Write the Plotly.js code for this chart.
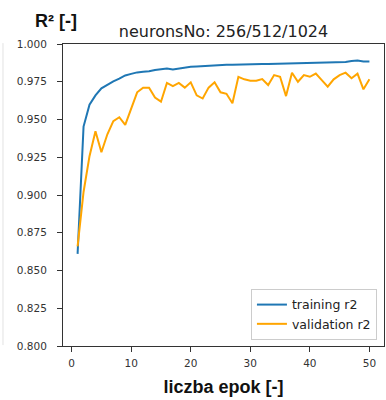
<!DOCTYPE html>
<html>
<head>
<meta charset="utf-8">
<script src="https://cdn.plot.ly/plotly-3.0.1.min.js"></script>
<style>html,body{margin:0;padding:0;background:#fff;}#chart{width:386px;height:400px;}</style>
</head>
<body>
<div id="chart"></div>
<script>
const epochs = [1,2,3,4,5,6,7,8,9,10,11,12,13,14,15,16,17,18,19,20,21,22,23,24,25,26,27,28,29,30,31,32,33,34,35,36,37,38,39,40,41,42,43,44,45,46,47,48,49,50];
const trainingR2 = [0.861,0.9453,0.9598,0.966,0.9706,0.9732,0.9752,0.977,0.9792,0.9802,0.9812,0.9816,0.9819,0.9828,0.9835,0.9838,0.9832,0.9838,0.9845,0.9849,0.9851,0.9854,0.9856,0.9858,0.9861,0.9862,0.9862,0.9864,0.9865,0.9866,0.9868,0.9868,0.9868,0.9869,0.9871,0.9873,0.9873,0.9873,0.9875,0.9875,0.9878,0.9878,0.9878,0.9878,0.9879,0.9881,0.9887,0.989,0.9884,0.9884];
const validationR2 = [0.866,0.902,0.9257,0.9422,0.9283,0.9402,0.9489,0.9515,0.9464,0.9567,0.968,0.9711,0.9711,0.9645,0.9618,0.9742,0.9721,0.9742,0.9711,0.9746,0.966,0.9639,0.9711,0.9746,0.968,0.967,0.9608,0.9783,0.9766,0.9757,0.9757,0.9768,0.9728,0.9794,0.9783,0.9655,0.981,0.975,0.9794,0.9783,0.9804,0.9761,0.9717,0.9766,0.9794,0.981,0.9773,0.9804,0.970,0.9766];
const xTicks = [0,10,20,30,40,50];
const titleText = 'neuronsNo: 256/512/1024';
const xLabel = 'liczba epok [-]';
const yLabel = 'R² [-]';
const seriesNames = ['training r2','validation r2'];

const traces = [
  {x: epochs, y: trainingR2, name: seriesNames[0], type: 'scatter', mode: 'lines',
   line: {color: '#1f77b4', width: 2}},
  {x: epochs, y: validationR2, name: seriesNames[1], type: 'scatter', mode: 'lines',
   line: {color: '#ffa500', width: 2}}
];

const axisCommon = {
  showgrid: false, zeroline: false, showline: true, mirror: true,
  linecolor: '#333', linewidth: 1, ticks: 'outside', ticklen: 5, tickwidth: 1,
  tickcolor: '#333', tickfont: {family: 'DejaVu Sans', size: 10.5, color: '#333'}
};

const layout = {
  width: 386, height: 400,
  margin: {l: 63, r: 2, t: 44, b: 54},
  paper_bgcolor: '#fff', plot_bgcolor: '#fff',
  showlegend: true,
  title: {text: titleText, font: {family: 'DejaVu Sans', size: 16, color: '#222'},
          x: 0.5, xref: 'paper', xanchor: 'center', y: 1, yref: 'paper', yanchor: 'bottom', pad: {b: 7}},
  xaxis: Object.assign({}, axisCommon, {
    range: [-1.45, 52.45], tickmode: 'array', tickvals: xTicks, ticklabelstandoff: 2,
    title: {text: xLabel, font: {family: 'Liberation Sans', size: 18, color: '#111', weight: 'bold'}, standoff: 12}
  }),
  yaxis: Object.assign({}, axisCommon, {
    range: [0.8, 1.0], dtick: 0.025, tick0: 0.8, tickformat: '.3f', ticklabelstandoff: 8
  }),
  legend: {x: 0.978, xanchor: 'right', y: 0.02, yanchor: 'bottom',
           bgcolor: '#fff', bordercolor: '#ccc', borderwidth: 1,
           font: {family: 'DejaVu Sans', size: 12.5, color: '#222'}, itemwidth: 30, tracegroupgap: 0},
  annotations: [
    {text: '<b>' + yLabel + '</b>', xref: 'paper', yref: 'paper', x: -0.022, y: 1.077,
     xanchor: 'center', yanchor: 'middle', showarrow: false,
     font: {family: 'Liberation Sans', size: 18, color: '#111'}}
  ],
  shapes: [
    {type: 'line', xref: 'paper', yref: 'paper', x0: -0.187, x1: -0.187, y0: 0.003, y1: 1.003,
     line: {color: '#e2e2e2', width: 1}}
  ]
};

Plotly.newPlot('chart', traces, layout, {displayModeBar: false, staticPlot: true});
</script>
</body>
</html>
